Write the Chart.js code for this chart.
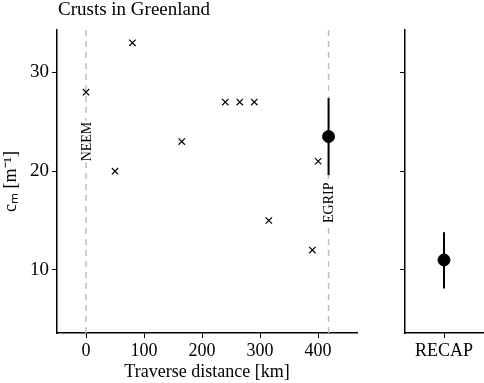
<!DOCTYPE html>
<html>
<head>
<meta charset="utf-8">
<script src="https://cdn.jsdelivr.net/npm/chart.js@4/dist/chart.umd.min.js"></script>
<style>
  body { margin: 0; background: #fff; }
  #wrap { position: relative; width: 484px; height: 383px; overflow: hidden; }
  #title { position: absolute; left: 58px; top: -2px; font: 19px 'Liberation Serif', serif; color: #000; }
  #leftChart { position: absolute; left: 0; top: 0; }
  #rightChart { position: absolute; left: 370px; top: 0; }
</style>
</head>
<body>
<div id="wrap">
  <canvas id="leftChart" width="370" height="383"></canvas>
  <canvas id="rightChart" width="120" height="383"></canvas>
  <div id="title">Crusts in Greenland</div>
</div>
<script>
// traverse measurements
const distance = [0, 50, 80, 165, 240, 265, 290, 315, 390, 400];
const crust = [28, 20, 33, 23, 27, 27, 27, 15, 12, 21];

// EGRIP estimate with error bar
const egripX = [418];
const egripY = [23.5];
const egripLow = [19.6];
const egripHigh = [27.4];

// RECAP estimate
const recapLabels = ['RECAP'];
const recapY = [11];
const recapLow = [8.1];
const recapHigh = [13.8];

// reference sites (dashed lines)
const siteNames = ['NEEM', 'EGRIP'];
const siteX = [0, 418];
const siteLabelY = [23, 16.8];

const xTicks = [0, 100, 200, 300, 400];
const yTicks = [10, 20, 30];

Chart.defaults.font.family = "'Liberation Serif', 'Times New Roman', serif";
Chart.defaults.color = '#000';

const yScaleBase = {
    min: 3.6,
    max: 34.3,
    border: { color: '#000', width: 1.5 },
    grid: { drawOnChartArea: false, drawTicks: true, tickLength: 5, color: '#000', lineWidth: 1 },
    afterBuildTicks: function(scale) {
        scale.ticks = yTicks.map(v => ({ value: v }));
    }
};

// error bars drawn from data values through the scales
const errorBarPlugin = {
    id: 'errorBars',
    beforeDatasetsDraw: function(chart, args, opts) {
        const ctx = chart.ctx;
        const xs = chart.scales.x, ys = chart.scales.y;
        ctx.save();
        ctx.strokeStyle = '#000';
        ctx.lineWidth = 2;
        opts.items.forEach(item => {
            const px = item.category ? xs.getPixelForValue(0) : xs.getPixelForValue(item.x);
            ctx.beginPath();
            ctx.moveTo(px, ys.getPixelForValue(item.low));
            ctx.lineTo(px, ys.getPixelForValue(item.high));
            ctx.stroke();
        });
        ctx.restore();
    }
};

// dashed site lines + rotated labels
const siteLinePlugin = {
    id: 'siteLines',
    beforeDatasetsDraw: function(chart) {
        const ctx = chart.ctx;
        const area = chart.chartArea;
        const xs = chart.scales.x, ys = chart.scales.y;
        ctx.save();
        siteX.forEach((sx, i) => {
            const px = xs.getPixelForValue(sx);
            ctx.strokeStyle = '#bdbdbd';
            ctx.lineWidth = 1.5;
            ctx.setLineDash([6, 5]);
            ctx.beginPath();
            ctx.moveTo(px, area.top);
            ctx.lineTo(px, area.bottom);
            ctx.stroke();
            ctx.setLineDash([]);

            const py = ys.getPixelForValue(siteLabelY[i]);
            ctx.translate(px, py);
            ctx.rotate(-Math.PI / 2);
            ctx.font = "14px 'Liberation Serif', serif";
            const w = ctx.measureText(siteNames[i]).width;
            ctx.fillStyle = '#fff';
            ctx.fillRect(-w / 2 - 1, -7, w + 2, 14);
            ctx.fillStyle = '#000';
            ctx.textAlign = 'center';
            ctx.textBaseline = 'middle';
            ctx.fillText(siteNames[i], 0, 1);
            ctx.setTransform(1, 0, 0, 1, 0, 0);
        });
        ctx.restore();
    }
};

new Chart(document.getElementById('leftChart'), {
    type: 'scatter',
    data: {
        datasets: [{
            data: distance.map((d, i) => ({ x: d, y: crust[i] })),
            pointStyle: 'crossRot',
            radius: 4.5,
            borderColor: '#000',
            borderWidth: 1.2,
            backgroundColor: '#000'
        }, {
            data: egripX.map((d, i) => ({ x: d, y: egripY[i] })),
            pointStyle: 'circle',
            radius: 6,
            borderColor: '#000',
            backgroundColor: '#000'
        }]
    },
    options: {
        responsive: false,
        animation: false,
        layout: { padding: { top: 30, right: 13, bottom: 0, left: 0 } },
        plugins: {
            legend: { display: false },
            tooltip: { enabled: false },
            errorBars: { items: egripX.map((d, i) => ({ x: d, low: egripLow[i], high: egripHigh[i] })) }
        },
        scales: {
            x: {
                type: 'linear',
                min: -50,
                max: 467,
                border: { color: '#000', width: 1.5 },
                grid: { drawOnChartArea: false, drawTicks: true, tickLength: 5, color: '#000' },
                ticks: { font: { size: 18 }, padding: 2 },
                title: { display: true, text: 'Traverse distance [km]', font: { size: 18 }, padding: { top: 0, bottom: 0 } },
                afterBuildTicks: function(scale) {
                    scale.ticks = xTicks.map(v => ({ value: v }));
                },
                afterFit: function(scale) { scale.height = 50; }
            },
            y: Object.assign({}, yScaleBase, {
                ticks: { font: { size: 19 }, padding: 3 },
                title: { display: true, text: 'cₘ [m⁻¹]', font: { size: 18 }, padding: { top: 0, bottom: 0 } },
                afterFit: function(scale) { scale.width = 57; }
            })
        }
    },
    plugins: [siteLinePlugin, errorBarPlugin]
});

new Chart(document.getElementById('rightChart'), {
    type: 'scatter',
    data: {
        labels: recapLabels,
        datasets: [{
            data: recapY.map((v, i) => ({ x: recapLabels[i], y: v })),
            pointStyle: 'circle',
            radius: 6,
            borderColor: '#000',
            backgroundColor: '#000'
        }]
    },
    options: {
        responsive: false,
        animation: false,
        layout: { padding: { top: 30, right: 0, bottom: 0, left: 0 } },
        plugins: {
            legend: { display: false },
            tooltip: { enabled: false },
            errorBars: { items: recapY.map((v, i) => ({ category: true, low: recapLow[i], high: recapHigh[i] })) }
        },
        scales: {
            x: {
                type: 'category',
                offset: true,
                border: { color: '#000', width: 1.5 },
                grid: { offset: false, drawOnChartArea: false, drawTicks: true, tickLength: 5, color: '#000' },
                ticks: { font: { size: 18 }, padding: 2 },
                afterFit: function(scale) { scale.height = 50; }
            },
            y: Object.assign({}, yScaleBase, {
                ticks: { display: false },
                afterFit: function(scale) { scale.width = 35; }
            })
        }
    },
    plugins: [errorBarPlugin]
});
</script>
</body>
</html>
